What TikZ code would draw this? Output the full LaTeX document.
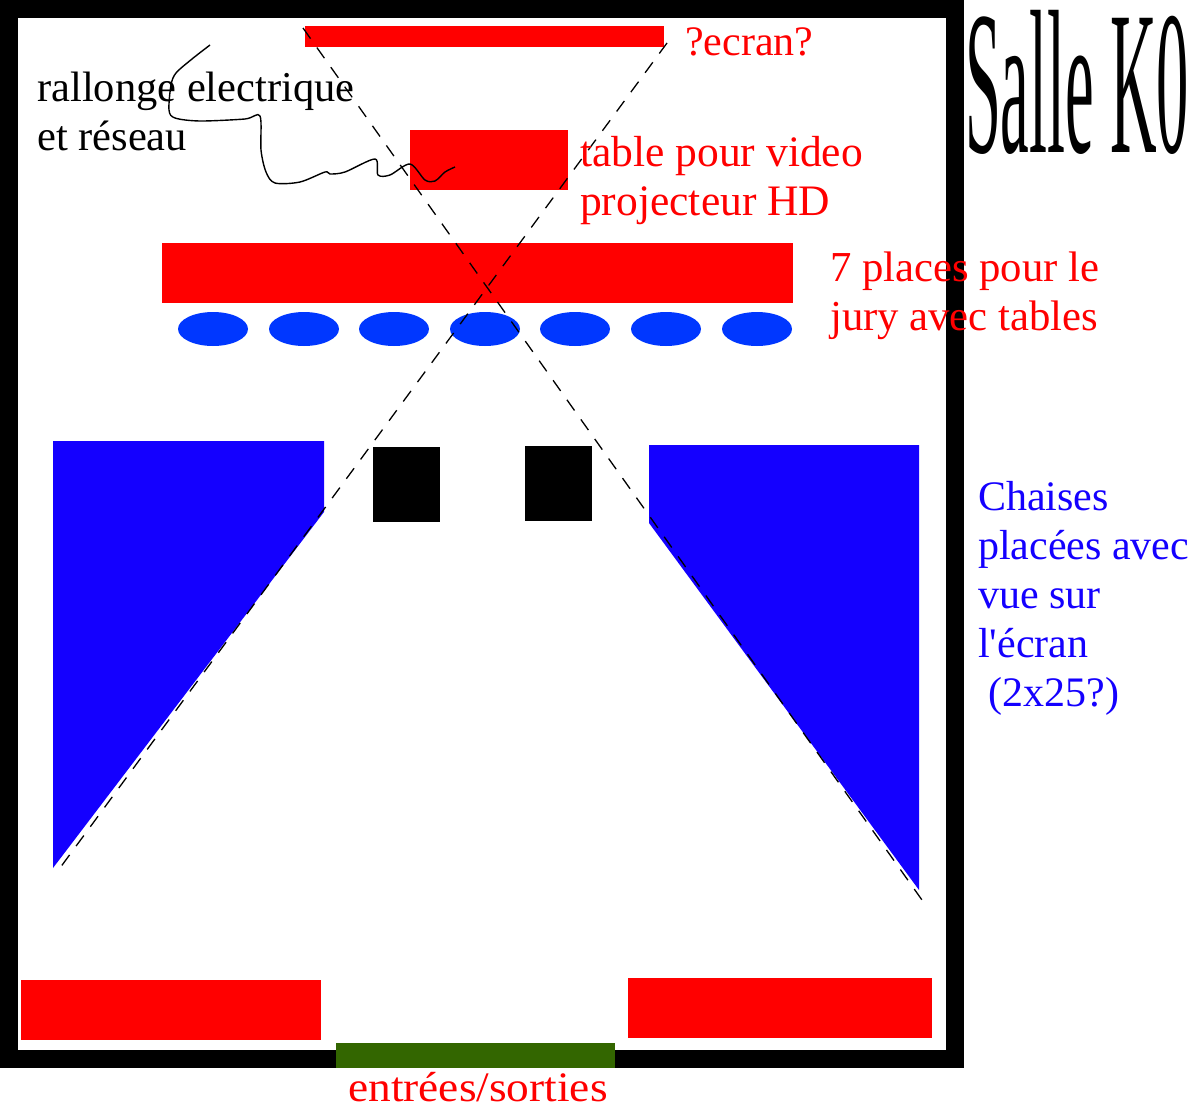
\documentclass[tikz,border=0pt]{standalone}
\usepackage{fontspec}
\setmainfont{Liberation Serif}
\definecolor{rouge}{HTML}{FF0000}
\definecolor{bleu}{HTML}{1400FF}
\definecolor{chaise}{HTML}{0037FF}
\definecolor{porte}{HTML}{336600}
\newcommand{\apos}{\XeTeXglyph\XeTeXcharglyph"0027\relax}
\tikzset{txt/.style={inner sep=0pt,anchor=west,align=left,font=\fontsize{#1}{49}\selectfont}}
\begin{document}
\begin{tikzpicture}[line join = miter, x=1pt, y=-1pt]
	\useasboundingbox (0,0) rectangle (1197,1106);
	% murs de la salle
	\draw[line width=18pt] (9,9) rectangle (955,1059);
	% tables
	\fill[rouge] (305,26) rectangle (664,47);
	\fill[rouge] (410,130) rectangle (568,190);
	\fill[rouge] (162,243) rectangle (793,303);
	\fill[rouge] (21,980) rectangle (321,1040);
	\fill[rouge] (628,978) rectangle (932,1038);
	\fill[porte] (336,1043) rectangle (615,1068);
	% jury
	\foreach \x in {213,304,394,485,575,666,757}
		\fill[chaise] (\x,329) ellipse (35 and 17);
	% chaises
	\fill[bleu] (53,441) -- (324,441) -- (324,512) -- (53,868) -- cycle;
	\fill[bleu] (649,445) -- (919,445) -- (919,890) -- (649,523) -- cycle;
	\fill (373,447) rectangle (440,522);
	\fill (525,446) rectangle (592,521);
	% vue sur l'ecran
	\draw[dash pattern=on 13pt off 11pt,line width=1.3pt] (303,28) -- (922,900)
	(667,43) -- (57,872);
	% rallonge
	\draw[line join=round,line width=1.4pt] plot[smooth,tension=0.5] coordinates{(210,45) (192,59) (176,73) (171,85) (169,110) (175,118) (200,121) (245,119) (260,116) (261,150) (266,172) (275,183) (300,182) (325,172) (330,174) (345,172) (375,159) (378,175) (390,175) (410,164) (425,180) (435,181) (445,172) (455,167)};
	% textes
	\node[txt=42.5] (rallonge) at (37,111) {rallonge electrique\\et réseau};
	\node[txt=42,rouge] (ecran) at (685,42) {?ecran?};
	\node[txt=43.5,rouge] (projo) at (580,181) {table pour video\\projecteur HD};
	\node[txt=42.7,rouge] (jury) at (830,296) {7 places pour le\\jury avec tables};
	\node[txt=42,bleu] (chaises) at (978,598) {Chaises\\placées avec\\vue sur\\l\apos écran\\\ (2x25?)};
	\node[txt=42,rouge,xscale=1.08] (entrees) at (348,1087) {entrées/sorties};
	\node[inner sep=0pt,anchor=west,xscale=.315,font=\fontsize{205}{205}\selectfont] (salle) at (965,82) {Salle K0};
\end{tikzpicture}
\end{document}
